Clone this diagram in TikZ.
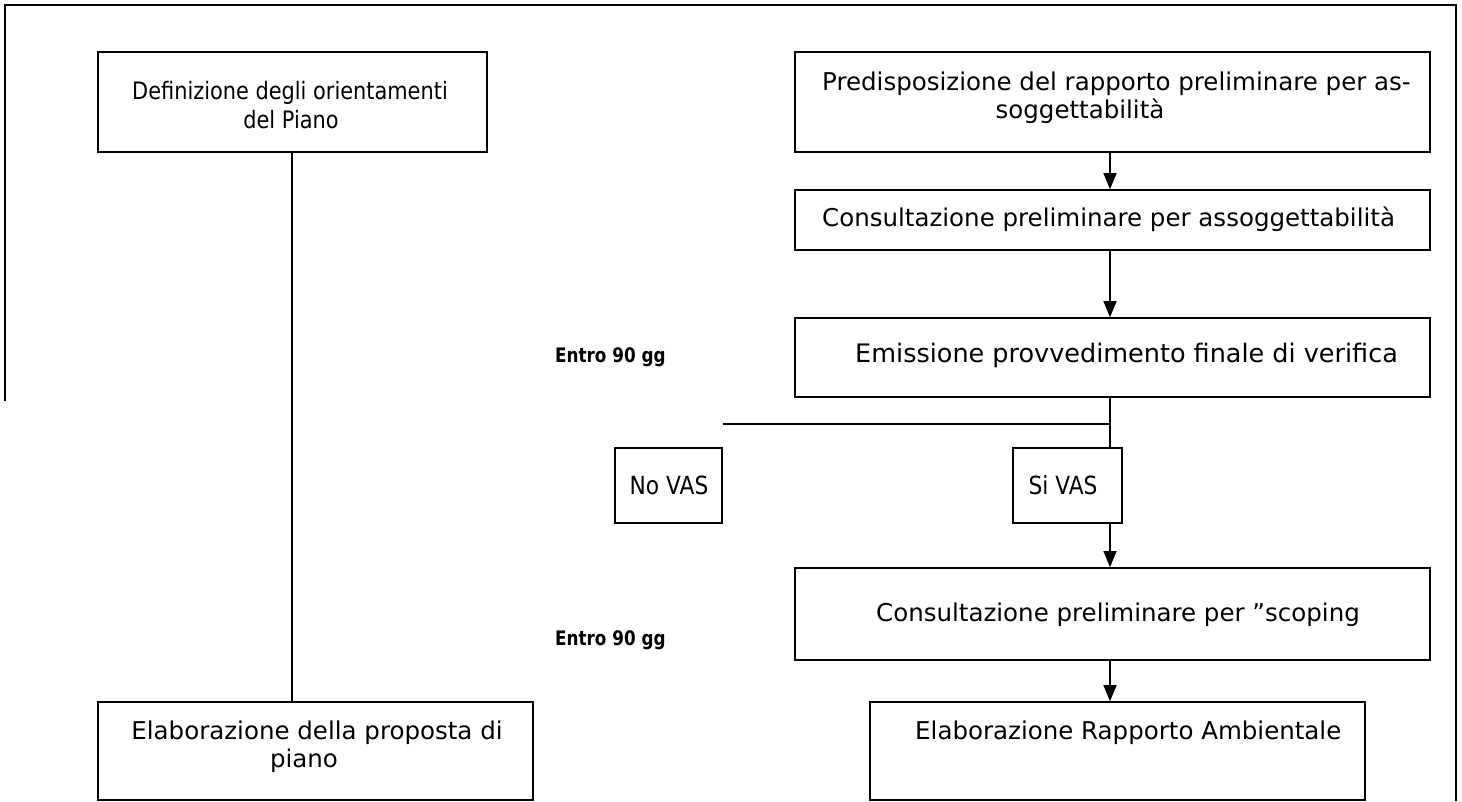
\documentclass[tikz,border=0pt]{standalone}
\usepackage{fontspec}
\setmainfont{DejaVu Sans}
\newfontfamily\condfont[FakeStretch=0.87]{DejaVu Sans}
\newfontfamily\condbold[FakeStretch=0.84]{DejaVu Sans Bold}
\usetikzlibrary{arrows.meta}
\tikzset{
  box/.style={draw, line width=1.6pt, rectangle, inner sep=0pt},
  txt/.style={inner sep=0pt, font=\fontsize{24.5}{28}\selectfont},
  midtxt/.style={inner sep=0pt, font=\condfont\fontsize{24}{28}\selectfont},
  bigtxt/.style={inner sep=0pt, font=\fontsize{25.5}{30}\selectfont},
  vastxt/.style={inner sep=0pt, font=\condfont\fontsize{25}{29}\selectfont},
  boldtxt/.style={inner sep=0pt, font=\condbold\fontsize{20}{24}\selectfont},
  conn/.style={line width=1.3pt},
  arr/.style={line width=1.3pt, -{Triangle[length=16pt,width=13pt]}},
  frame/.style={line width=1.6pt}
}
\begin{document}
\begin{tikzpicture}[x=1pt,y=-1pt]
\useasboundingbox (0,0) rectangle (1462,801);
% outer frame
\draw[frame] (5,401) -- (5,5) -- (1456,5) -- (1456,801);
% left column
\node[box, minimum width=389pt, minimum height=100pt] (A) at (292.5,102) {};
\node[midtxt, anchor=base] (At1) at (290,99) {Definizione degli orientamenti};
\node[midtxt, anchor=base] (At2) at (291,128) {del Piano};
\node[box, minimum width=435pt, minimum height=98pt] (G) at (315.5,751) {};
\node[txt, anchor=base] (Gt1) at (317,739) {Elaborazione della proposta di};
\node[txt, anchor=base] (Gt2) at (304,767) {piano};
\coordinate (lx) at (292,0);
\draw[conn] (A.south -| lx) -- (G.north -| lx);
% right column
\node[box, minimum width=635pt, minimum height=100pt] (B) at (1112.5,102) {};
\node[txt, anchor=base west] (Bt1) at (822,90) {Predisposizione del rapporto preliminare per as-};
\node[txt, anchor=base] (Bt2) at (1080,118) {soggettabilità};
\node[box, minimum width=635pt, minimum height=60pt] (C) at (1112.5,220) {};
\node[txt, anchor=base west] (Ct) at (822,226) {Consultazione preliminare per assoggettabilità};
\node[box, minimum width=635pt, minimum height=79pt] (D) at (1112.5,357.5) {};
\node[bigtxt, anchor=base west] (Dt) at (855,362) {Emissione provvedimento finale di verifica};
\node[boldtxt, anchor=base west] (E1) at (555,362) {Entro 90 gg};
\node[box, minimum width=107pt, minimum height=75pt] (No) at (668.5,485.5) {};
\node[vastxt, anchor=base] (Not) at (669,494) {No VAS};
\node[box, minimum width=109pt, minimum height=75pt] (Si) at (1067.5,485.5) {};
\node[vastxt, anchor=base] (Sit) at (1063,494) {Si VAS};
\node[box, minimum width=635pt, minimum height=92pt] (E) at (1112.5,614) {};
\node[txt, anchor=base west] (Et) at (876,621) {Consultazione preliminare per "scoping};
\node[boldtxt, anchor=base west] (E2) at (555,645) {Entro 90 gg};
\node[box, minimum width=495pt, minimum height=98pt] (F) at (1117.5,751) {};
\node[txt, anchor=base west] (Ft) at (915,739) {Elaborazione Rapporto Ambientale};
% connectors
\coordinate (cx) at (1110,0);
\coordinate (j) at (1110,424);
\draw[arr] (B.south -| cx) -- (C.north -| cx);
\draw[arr] (C.south -| cx) -- (D.north -| cx);
\draw[conn] (D.south -| cx) -- (Si.north -| cx);
\draw[conn] (No.north east |- j) -- (j);
\draw[arr] (Si.south -| cx) -- (E.north -| cx);
\draw[arr] (E.south -| cx) -- (F.north -| cx);
\end{tikzpicture}
\end{document}
